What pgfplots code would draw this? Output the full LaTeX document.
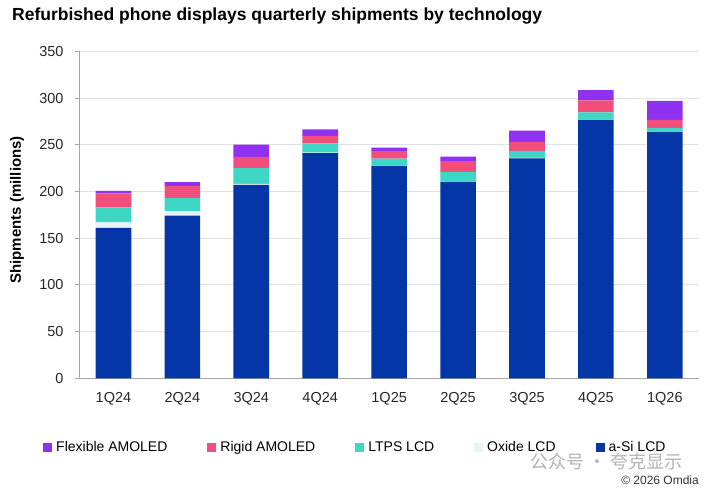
\documentclass[border=0pt]{standalone}
\usepackage{fontspec}
\setmainfont{Liberation Sans}
\newfontfamily\cjk{Noto Sans CJK SC}
\usepackage{pgfplots}
\pgfplotsset{compat=1.18}
\definecolor{cflex}{HTML}{9030F0}
\definecolor{crigid}{HTML}{F24E7B}
\definecolor{cltps}{HTML}{3ED6C4}
\definecolor{coxide}{HTML}{E6F4F4}
\definecolor{casi}{HTML}{0536A8}
\definecolor{cgrid}{HTML}{E2E2E2}
\definecolor{caxis}{HTML}{A6A6A6}
\pgfplotsset{sqlegend/.style={legend image code/.code={\fill[##1,draw=none] (0pt,-4.5pt) rectangle (9pt,4.5pt);}}}
\pgfplotstableread{
x asi oxide ltps rigid flex
0 161   6   16  15   2.5
1 174   5   14  13   4
2 207   1   17  12   13
3 241   0.5 10  8    7
4 227   0.5 7.5 8.5  3.3
5 210.5 0.5 10  11.5 4.7
6 235.5 0.5 7.5 9.5  12
7 277   0.5 7   13   11
8 264   0.5 3.5 8.5  20.5
}\data
\begin{document}
\begin{tikzpicture}
\path[use as bounding box] (0pt,0pt) rectangle (709pt,490pt);
\node[anchor=base west, inner sep=0pt, font=\fontsize{17.5}{20}\selectfont\bfseries] at (12pt,469pt) {Refurbished phone displays quarterly shipments by technology};
\node[anchor=base east, inner sep=0pt, font=\fontsize{12}{14}\selectfont, text=black!80] at (699pt,6pt) {© 2026 Omdia};
\node[anchor=west, inner sep=0pt, font=\cjk\fontsize{18}{20}\selectfont, text=black!30] at (530pt,28pt) {公众号 · 夸克显示};
\begin{axis}[
  at={(79pt,111.7pt)}, anchor=south west,
  scale only axis, width=620.3pt, height=327pt,
  ybar stacked, bar width=0.517,
  xmin=-0.5, xmax=8.5, ymin=0, ymax=350,
  axis x line*=bottom, axis y line*=left,
  axis line style={caxis, line width=0.8pt},
  xtick={0,...,8},
  xticklabels={1Q24,2Q24,3Q24,4Q24,1Q25,2Q25,3Q25,4Q25,1Q26},
  major x tick style={draw=none},
  extra x ticks={0.5,1.5,...,7.5},
  extra x tick labels={},
  extra x tick style={grid=none, major tick length=4pt, tick style={caxis, line width=0.8pt}},
  ytick={0,50,...,350},
  ymajorgrids, grid style={cgrid, line width=0.8pt},
  tick align=outside, major tick length=4pt,
  y tick style={caxis, line width=0.8pt},
  ticklabel style={font=\fontsize{14.5}{16}\selectfont, text=black!85},
  /pgf/number format/assume math mode=true,
  xticklabel style={yshift=-7pt},
  yticklabel style={xshift=-8pt},
  ylabel={Shipments (millions)},
  every axis y label/.style={at={(-62pt,0.515)}, rotate=90, anchor=center, font=\fontsize{15}{17}\selectfont\bfseries},
  legend columns=5,
  reverse legend,
  legend style={at={(-36pt,-68.7pt)}, anchor=west, draw=none, fill=none, inner sep=0pt,
    font=\fontsize{14}{16}\selectfont,
    nodes={inner sep=0pt, anchor=west},
    /tikz/every odd column/.append style={column sep=4pt},
    /tikz/every even column/.append style={column sep=40pt}},
  legend cell align=left,
]
\addplot[fill=casi, draw=none, sqlegend] table[x=x, y=asi] {\data};
\addlegendentry{a-Si LCD}
\addplot[fill=coxide, draw=none, sqlegend] table[x=x, y=oxide] {\data};
\addlegendentry{Oxide LCD}
\addplot[fill=cltps, draw=none, sqlegend] table[x=x, y=ltps] {\data};
\addlegendentry{LTPS LCD}
\addplot[fill=crigid, draw=none, sqlegend] table[x=x, y=rigid] {\data};
\addlegendentry{Rigid AMOLED}
\addplot[fill=cflex, draw=none, sqlegend] table[x=x, y=flex] {\data};
\addlegendentry{Flexible AMOLED}
\end{axis}
\end{tikzpicture}
\end{document}
